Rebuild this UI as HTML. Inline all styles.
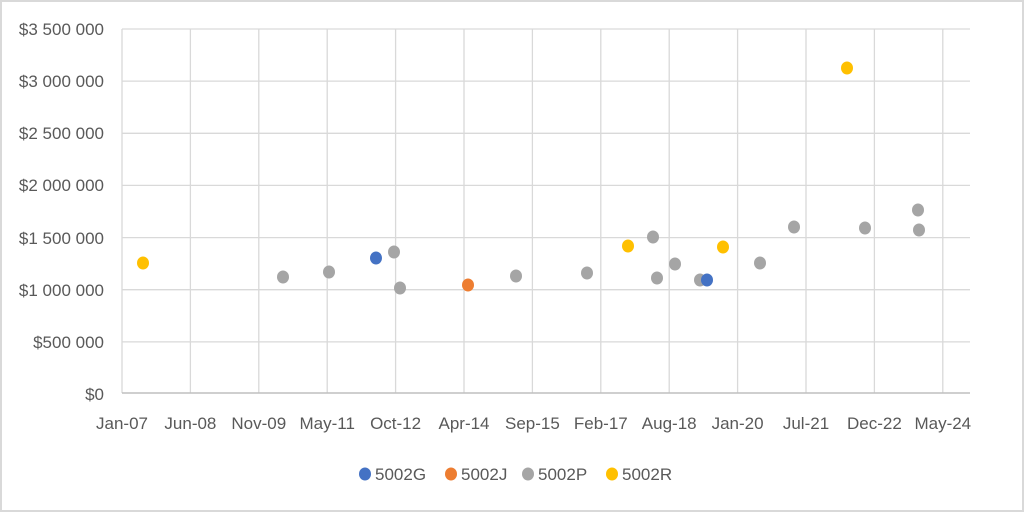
<!DOCTYPE html>
<html><head><style>
body{margin:0;background:#fff}
svg{display:block}
text{font-family:"Liberation Sans",sans-serif;font-size:17px;fill:#595959}
</style></head><body>
<svg width="1024" height="512" viewBox="0 0 1024 512">
<rect x="1" y="1" width="1022" height="510" fill="#fff" stroke="#d9d9d9" stroke-width="2"/>
<g stroke="#d9d9d9" stroke-width="1.3">
<line x1="122" y1="29" x2="970" y2="29"/>
<line x1="122" y1="81.1" x2="970" y2="81.1"/>
<line x1="122" y1="133.3" x2="970" y2="133.3"/>
<line x1="122" y1="185.4" x2="970" y2="185.4"/>
<line x1="122" y1="237.6" x2="970" y2="237.6"/>
<line x1="122" y1="289.7" x2="970" y2="289.7"/>
<line x1="122" y1="341.9" x2="970" y2="341.9"/>
<line x1="122" y1="29" x2="122" y2="393"/>
<line x1="190.4" y1="29" x2="190.4" y2="393"/>
<line x1="258.8" y1="29" x2="258.8" y2="393"/>
<line x1="327.2" y1="29" x2="327.2" y2="393"/>
<line x1="395.6" y1="29" x2="395.6" y2="393"/>
<line x1="464" y1="29" x2="464" y2="393"/>
<line x1="532.4" y1="29" x2="532.4" y2="393"/>
<line x1="600.8" y1="29" x2="600.8" y2="393"/>
<line x1="669.2" y1="29" x2="669.2" y2="393"/>
<line x1="737.6" y1="29" x2="737.6" y2="393"/>
<line x1="806" y1="29" x2="806" y2="393"/>
<line x1="874.4" y1="29" x2="874.4" y2="393"/>
<line x1="942.8" y1="29" x2="942.8" y2="393"/>
</g>
<line x1="122" y1="393" x2="970" y2="393" stroke="#bfbfbf" stroke-width="1.5"/>
<g text-anchor="end">
<text x="104" y="35">$3 500 000</text>
<text x="104" y="87">$3 000 000</text>
<text x="104" y="139">$2 500 000</text>
<text x="104" y="191">$2 000 000</text>
<text x="104" y="244">$1 500 000</text>
<text x="104" y="296">$1 000 000</text>
<text x="104" y="348">$500 000</text>
<text x="104" y="400">$0</text>
</g>
<g text-anchor="middle">
<text x="122" y="429">Jan-07</text>
<text x="190.4" y="429">Jun-08</text>
<text x="258.8" y="429">Nov-09</text>
<text x="327.2" y="429">May-11</text>
<text x="395.6" y="429">Oct-12</text>
<text x="464" y="429">Apr-14</text>
<text x="532.4" y="429">Sep-15</text>
<text x="600.8" y="429">Feb-17</text>
<text x="669.2" y="429">Aug-18</text>
<text x="737.6" y="429">Jan-20</text>
<text x="806" y="429">Jul-21</text>
<text x="874.4" y="429">Dec-22</text>
<text x="942.8" y="429">May-24</text>
</g>
<g fill="#a5a5a5">
<ellipse cx="283" cy="277" rx="6" ry="6.5"/><ellipse cx="329" cy="272" rx="6" ry="6.5"/>
<ellipse cx="394" cy="252" rx="6" ry="6.5"/><ellipse cx="400" cy="288" rx="6" ry="6.5"/>
<ellipse cx="516" cy="276" rx="6" ry="6.5"/><ellipse cx="587" cy="273" rx="6" ry="6.5"/>
<ellipse cx="653" cy="237" rx="6" ry="6.5"/><ellipse cx="657" cy="278" rx="6" ry="6.5"/>
<ellipse cx="675" cy="264" rx="6" ry="6.5"/><ellipse cx="700" cy="280" rx="6" ry="6.5"/>
<ellipse cx="760" cy="263" rx="6" ry="6.5"/><ellipse cx="794" cy="227" rx="6" ry="6.5"/>
<ellipse cx="865" cy="228" rx="6" ry="6.5"/><ellipse cx="918" cy="210" rx="6" ry="6.5"/>
<ellipse cx="919" cy="230" rx="6" ry="6.5"/>
</g>
<g fill="#4472c4"><ellipse cx="376" cy="258" rx="6" ry="6.5"/><ellipse cx="707" cy="280" rx="6" ry="6.5"/></g>
<g fill="#ed7d31"><ellipse cx="468" cy="285" rx="6" ry="6.5"/></g>
<g fill="#ffc000">
<ellipse cx="143" cy="263" rx="6" ry="6.5"/><ellipse cx="628" cy="246" rx="6" ry="6.5"/>
<ellipse cx="723" cy="247" rx="6" ry="6.5"/><ellipse cx="847" cy="68" rx="6" ry="6.5"/>
</g>
<ellipse cx="365" cy="474" rx="6" ry="6.5" fill="#4472c4"/><text x="375" y="480">5002G</text>
<ellipse cx="451" cy="474" rx="6" ry="6.5" fill="#ed7d31"/><text x="461" y="480">5002J</text>
<ellipse cx="528" cy="474" rx="6" ry="6.5" fill="#a5a5a5"/><text x="538" y="480">5002P</text>
<ellipse cx="612" cy="474" rx="6" ry="6.5" fill="#ffc000"/><text x="622" y="480">5002R</text>
</svg>
</body></html>
